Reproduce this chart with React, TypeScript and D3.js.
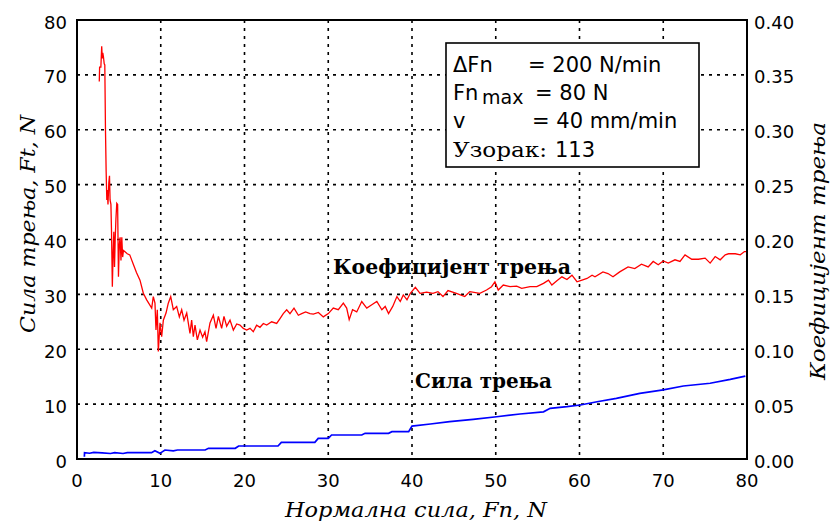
import React from "react";
import * as d3 from "d3";

const xTicks = [0, 10, 20, 30, 40, 50, 60, 70, 80];
const leftTicks = [0, 10, 20, 30, 40, 50, 60, 70, 80];
const rightTicks = [0, 0.05, 0.1, 0.15, 0.2, 0.25, 0.3, 0.35, 0.4];

// Коефицијент трења (right axis)
const coefFn = [2.66, 2.7, 2.85, 2.95, 3.02, 3.08, 3.15, 3.25, 3.32, 3.4, 3.48, 3.56, 3.62, 3.7, 3.8, 3.88, 3.95, 4.05, 4.12, 4.22, 4.32, 4.4, 4.48, 4.56, 4.65, 4.75, 4.85, 4.95, 5.05, 5.15, 5.25, 5.35, 5.45, 5.55, 5.7, 6.0, 6.3, 6.7, 7.1, 7.52, 7.92, 8.32, 8.92, 9.11, 9.31, 9.43, 9.59, 9.71, 9.91, 10.11, 10.31, 10.63, 10.9, 11.19, 11.5, 11.9, 12.22, 12.5, 12.78, 13.1, 13.49, 13.69, 13.89, 14.09, 14.37, 14.69, 15.0, 15.28, 15.48, 15.88, 16.28, 16.6, 16.88, 17.27, 17.55, 17.87, 18.27, 18.67, 19.07, 19.46, 19.86, 20.26, 20.66, 21.05, 21.45, 21.85, 22.25, 22.65, 23.24, 23.84, 24.24, 24.63, 25.04, 25.43, 25.91, 26.43, 26.83, 27.3, 27.82, 28.22, 28.82, 29.41, 30.01, 30.6, 31.2, 31.8, 32.2, 32.5, 32.9, 33.4, 34.0, 34.6, 35.2, 35.8, 36.4, 36.8, 37.2, 37.7, 38.2, 38.6, 38.96, 39.4, 39.8, 40.4, 40.96, 41.75, 42.5, 43.1, 43.7, 44.3, 45.3, 46.3, 46.9, 48.1, 48.9, 49.5, 49.9, 50.3, 50.9, 51.7, 52.5, 53.1, 54.1, 54.9, 55.7, 56.3, 56.7, 57.3, 57.9, 58.5, 59.1, 59.7, 60.3, 60.9, 61.5, 61.85, 62.8, 63.4, 64.0, 64.8, 65.8, 66.6, 67.4, 68.2, 68.8, 69.4, 70.0, 70.6, 71.4, 72.0, 72.6, 73.4, 74.2, 75.0, 75.6, 76.2, 76.8, 77.4, 77.8, 78.6, 79.2, 79.7, 80.0];
const coefMu = [0.344, 0.357, 0.357, 0.376, 0.365, 0.37, 0.367, 0.36, 0.359, 0.3, 0.262, 0.236, 0.245, 0.232, 0.252, 0.258, 0.236, 0.232, 0.208, 0.157, 0.19, 0.207, 0.175, 0.2, 0.219, 0.233, 0.232, 0.166, 0.195, 0.202, 0.181, 0.202, 0.184, 0.19, 0.189, 0.187, 0.186, 0.178, 0.17, 0.163, 0.151, 0.145, 0.1375, 0.148, 0.142, 0.1175, 0.136, 0.098, 0.124, 0.1115, 0.1265, 0.133, 0.142, 0.148, 0.136, 0.139, 0.1295, 0.136, 0.1265, 0.133, 0.1145, 0.1265, 0.1115, 0.122, 0.1085, 0.1175, 0.111, 0.116, 0.107, 0.124, 0.131, 0.119, 0.13, 0.119, 0.13, 0.121, 0.1265, 0.1175, 0.123, 0.122, 0.119, 0.1175, 0.119, 0.116, 0.122, 0.12, 0.1235, 0.122, 0.125, 0.1235, 0.128, 0.1325, 0.136, 0.1325, 0.1375, 0.131, 0.1325, 0.134, 0.1325, 0.132, 0.1335, 0.1295, 0.1325, 0.1375, 0.136, 0.142, 0.1375, 0.127, 0.136, 0.134, 0.1435, 0.1375, 0.1405, 0.1435, 0.136, 0.139, 0.1325, 0.139, 0.148, 0.1435, 0.1495, 0.145, 0.151, 0.1565, 0.151, 0.152, 0.151, 0.1525, 0.148, 0.1535, 0.151, 0.148, 0.1525, 0.151, 0.154, 0.157, 0.1615, 0.154, 0.1585, 0.157, 0.1575, 0.1555, 0.157, 0.157, 0.16, 0.163, 0.1585, 0.1625, 0.166, 0.1635, 0.1675, 0.1615, 0.163, 0.1645, 0.1675, 0.166, 0.1705, 0.169, 0.166, 0.1705, 0.175, 0.1735, 0.1775, 0.175, 0.18, 0.177, 0.1805, 0.1785, 0.1815, 0.18, 0.186, 0.182, 0.182, 0.183, 0.1785, 0.1845, 0.1815, 0.186, 0.187, 0.187, 0.186, 0.189, 0.189];

// Сила трења (left axis)
const forceFn = [0.88, 0.9, 1.5, 2.0, 3.0, 4.0, 4.5, 5.5, 6.0, 8.9, 9.3, 9.9, 10.5, 11.5, 12.0, 15.3, 15.7, 18.9, 19.3, 24.0, 24.4, 28.4, 28.8, 30.0, 30.4, 34.0, 34.4, 37.2, 37.6, 39.6, 40.0, 42.2, 44.5, 47.3, 50.1, 52.9, 55.7, 56.5, 58.5, 60.1, 62.1, 64.4, 67.2, 70.0, 72.4, 75.6, 78.0, 79.8];
const forceFt = [0.42, 1.15, 1.05, 1.2, 1.1, 1.0, 1.15, 1.0, 1.15, 1.15, 1.52, 1.03, 1.64, 1.5, 1.64, 1.64, 1.95, 1.95, 2.37, 2.37, 3.03, 3.03, 3.76, 3.76, 4.37, 4.37, 4.68, 4.68, 4.98, 4.98, 6.0, 6.38, 6.8, 7.23, 7.7, 8.2, 8.6, 9.23, 9.53, 9.84, 10.44, 11.06, 11.97, 12.6, 13.3, 13.8, 14.5, 15.1];

const W = 834;
const H = 522;
const M = { left: 77, right: 747, top: 20, bottom: 459 };

export default function App() {
  const x = d3.scaleLinear().domain([0, 80]).range([M.left, M.right]);
  const yL = d3.scaleLinear().domain([0, 80]).range([M.bottom, M.top]);
  const yR = d3.scaleLinear().domain([0, 0.4]).range([M.bottom, M.top]);

  const coefData = coefFn.map((f, i) => [f, coefMu[i]] as [number, number]);
  const forceData = forceFn.map((f, i) => [f, forceFt[i]] as [number, number]);

  const coefLine = d3
    .line<[number, number]>()
    .x((d) => x(d[0]))
    .y((d) => yR(d[1]));
  const forceLine = d3
    .line<[number, number]>()
    .x((d) => x(d[0]))
    .y((d) => yL(d[1]));

  const sans = "'DejaVu Sans', Verdana, sans-serif";
  const serif = "'DejaVu Serif', Cambria, serif";

  return (
    <svg
      width={W}
      height={H}
      style={{ position: "absolute", left: 0, top: 0, background: "#fff" }}
    >
      <rect x={0} y={0} width={W} height={H} fill="#fff" />
      {/* grid */}
      <g stroke="#000" strokeWidth={1.6} strokeDasharray="3,5">
        {xTicks.slice(1, -1).map((t) => (
          <line key={"vx" + t} x1={x(t)} x2={x(t)} y1={M.top} y2={M.bottom} />
        ))}
        {leftTicks.slice(1, -1).map((t) => (
          <line key={"hy" + t} x1={M.left} x2={M.right} y1={yL(t)} y2={yL(t)} />
        ))}
      </g>

      {/* legend box */}
      <rect x={446} y={43} width={253} height={124} fill="#fff" stroke="#000" strokeWidth={1.6} />
      <g fontFamily={sans} fontSize={21} fill="#000">
        <text x={453} y={72}>ΔFn</text>
        <text x={528} y={72}>= 200 N/min</text>
        <text x={453} y={100}>Fn</text>
        <text x={482} y={104} fontSize={19}>max</text>
        <text x={535} y={100}>= 80 N</text>
        <text x={453} y={128}>v</text>
        <text x={532} y={128}>= 40 mm/min</text>
        <text x={453} y={157} fontFamily={serif} fontSize={20} textLength={94} lengthAdjust="spacingAndGlyphs">Узорак:</text>
        <text x={555} y={157}>113</text>
      </g>

      {/* lines */}
      <path d={forceLine(forceData) || ""} fill="none" stroke="#0000ff" strokeWidth={1.7} />
      <path d={coefLine(coefData) || ""} fill="none" stroke="#ff0000" strokeWidth={1.3} strokeLinejoin="miter" />

      {/* frame */}
      <rect
        x={M.left}
        y={M.top}
        width={M.right - M.left}
        height={M.bottom - M.top}
        fill="none"
        stroke="#000"
        strokeWidth={2}
      />

      {/* tick labels */}
      <g fontFamily={sans} fontSize={18} fill="#000">
        {leftTicks.map((t) => (
          <text key={"l" + t} x={67} y={yL(t) + 8.5} textAnchor="end">
            {t}
          </text>
        ))}
        {rightTicks.map((t) => (
          <text key={"r" + t} x={754} y={yR(t) + 8.5} textAnchor="start">
            {t.toFixed(2)}
          </text>
        ))}
        {xTicks.map((t) => (
          <text key={"x" + t} x={x(t)} y={486.5} textAnchor="middle">
            {t}
          </text>
        ))}
      </g>

      {/* axis titles */}
      <g fontFamily={serif} fontStyle="italic" fontSize={21} fill="#000">
        <text x={416} y={517} textAnchor="middle" textLength={262} lengthAdjust="spacingAndGlyphs">
          Нормална сила, Fn, N
        </text>
        <text
          transform="translate(35,224) rotate(-90)"
          textAnchor="middle"
          textLength={218}
          lengthAdjust="spacingAndGlyphs"
        >
          Сила трења, Ft, N
        </text>
        <text
          transform="translate(825,251) rotate(-90)"
          textAnchor="middle"
          textLength={258}
          lengthAdjust="spacingAndGlyphs"
        >
          Коефицијент трења
        </text>
      </g>

      {/* annotations */}
      <g fontFamily={serif} fontWeight="bold" fontSize={21} fill="#000">
        <text x={333} y={274} textLength={238} lengthAdjust="spacingAndGlyphs">
          Коефицијент трења
        </text>
        <text x={415} y={388} textLength={137} lengthAdjust="spacingAndGlyphs">
          Сила трења
        </text>
      </g>
    </svg>
  );
}
